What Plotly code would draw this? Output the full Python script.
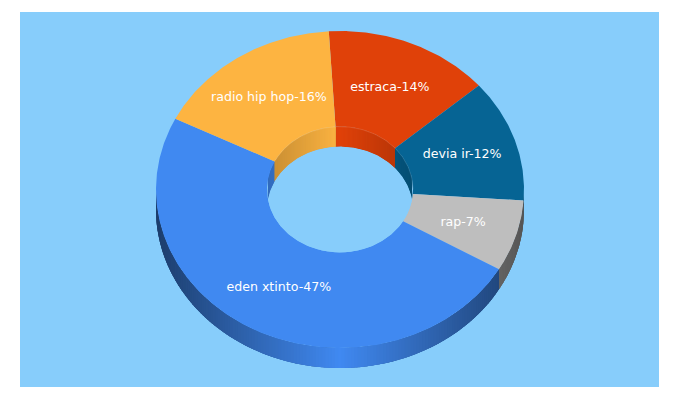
import numpy as np
import plotly.graph_objects as go

# ---- data ----
labels = ["estraca", "devia ir", "rap", "eden xtinto", "radio hip hop"]
values = [14, 12, 7, 47, 16]
colors = [(224, 65, 9), (6, 100, 148), (190, 190, 190), (64, 137, 241), (253, 180, 65)]

# ---- style ----
BG = "#87cdfb"
START_DEG = -3.5
HOLE = 73 / 184
DEPTH = 20 / 158.5
LABEL_R = 0.70
LABEL_SHIFT = 0.006
W, H = 680, 400
L, R, T, B = 20, 659, 12, 387
CX, CY, RX, RY = 340, 189.5, 184, 158.5

total = sum(values)
edges = START_DEG + np.concatenate([[0], np.cumsum(values)]) * 360 / total


def px(t, r):
    return r * np.sin(np.radians(t))


def py(t, r, d=0.0):
    return r * np.cos(np.radians(t)) - d


def shade(c, f):
    return "rgb(%d,%d,%d)" % tuple(int(round(v * f)) for v in c)


fig = go.Figure()


def poly(xs, ys, color):
    fig.add_trace(go.Scatter(
        x=list(xs), y=list(ys), mode="lines", fill="toself", fillcolor=color,
        line=dict(width=0), hoverinfo="skip", showlegend=False))


def walls(radius, lo, hi, strength):
    """Vertical side strips of a ring, shaded by horizontal position.
    Each strip runs under the next one so no seams show."""
    for a, b, c in zip(edges[:-1], edges[1:], colors):
        for k in (0, 360, -360):
            s, e = max(a + k, lo), min(b + k, hi)
            if e <= s:
                continue
            # solid underlay so that near-vertical strips leave no gap
            whole = np.linspace(s, e, 60)
            darkest = 1 - strength * np.abs(np.sin(np.radians(whole))).max()
            poly(np.concatenate([px(whole, radius), px(whole[::-1], radius)]),
                 np.concatenate([py(whole, radius), py(whole[::-1], radius, DEPTH)]),
                 shade(c, darkest))
            steps = np.linspace(s, e, max(int(e - s), 1) + 1)
            for t0, t1 in zip(steps[:-1], steps[1:]):
                mid = (t0 + t1) / 2
                f = 1 - strength * abs(np.sin(np.radians(mid)))
                end = min(t1 + 1.5, e)
                arc = np.linspace(t0, end, 5)
                poly(np.concatenate([px(arc, radius), px(arc[::-1], radius)]),
                     np.concatenate([py(arc, radius), py(arc[::-1], radius, DEPTH)]),
                     shade(c, f))


# outer wall: front half of the ring
walls(1.0, 90, 270, 0.55)
# inner wall: back half of the hole
walls(HOLE, -90, 90, 0.22)

# top face
for a, b, c in zip(edges[:-1], edges[1:], colors):
    ts = np.linspace(a, b, int(b - a) * 2 + 2)
    poly(np.concatenate([px(ts, 1.0), px(ts[::-1], HOLE)]),
         np.concatenate([py(ts, 1.0), py(ts[::-1], HOLE)]),
         shade(c, 1))

# hole: the part of the inner ellipse that sees through
limit = np.degrees(np.arccos((DEPTH / 2) / HOLE))
upper = np.linspace(-limit, limit, 181)
lower = np.linspace(limit, 360 - limit, 181)
poly(np.concatenate([px(upper, HOLE), px(lower, HOLE)]),
     np.concatenate([py(upper, HOLE, DEPTH), py(lower, HOLE)]),
     BG)

# faint rim along the back of the hole
rim = np.linspace(-62, 90, 120)
fig.add_trace(go.Scatter(
    x=px(rim, HOLE), y=py(rim, HOLE), mode="lines",
    line=dict(color="rgba(255,255,255,0.12)", width=1),
    hoverinfo="skip", showlegend=False))

# labels
mids = (edges[:-1] + edges[1:]) / 2
fig.add_trace(go.Scatter(
    x=px(mids, LABEL_R), y=py(mids, LABEL_R) - LABEL_SHIFT, mode="text",
    text=[f"{n}-{v}%" for n, v in zip(labels, values)],
    textposition="middle center",
    textfont=dict(family="DejaVu Sans", size=12.6, color="white"),
    hoverinfo="skip", showlegend=False))

fig.update_layout(
    width=W, height=H, autosize=False,
    margin=dict(l=L, r=W - R, t=T, b=H - B, pad=0),
    paper_bgcolor="white", plot_bgcolor=BG,
    xaxis=dict(visible=False, range=[(L - CX) / RX, (R - CX) / RX], fixedrange=True),
    yaxis=dict(visible=False, range=[(CY - B) / RY, (CY - T) / RY], fixedrange=True),
)
fig.write_html("out.html", config=dict(displayModeBar=False),
               post_script="document.body.style.margin='0';")
